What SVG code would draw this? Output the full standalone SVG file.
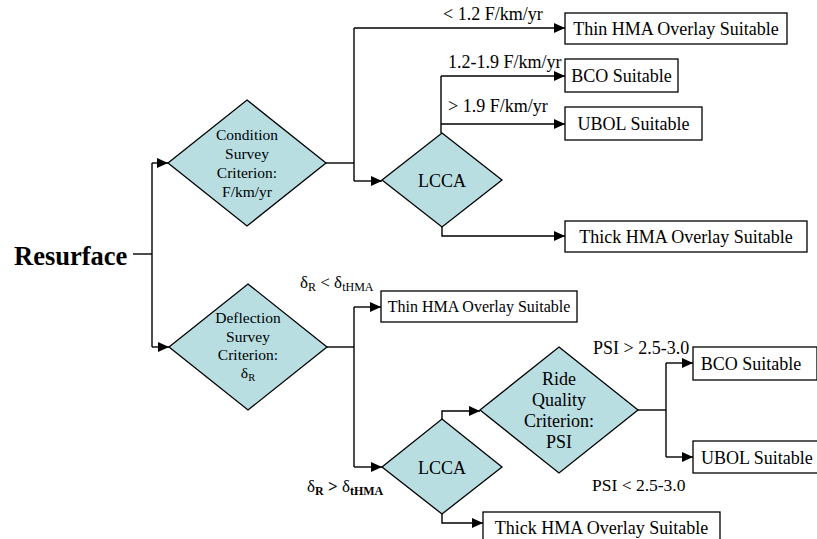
<svg xmlns="http://www.w3.org/2000/svg" width="817" height="539" viewBox="0 0 817 539" font-family="'Liberation Serif', 'Times New Roman', serif">
<style>
  .d { fill: #b8dee2; stroke: #000; stroke-width: 1.3; }
  .b { fill: #fff; stroke: #000; stroke-width: 1.3; }
  .c { fill: none; stroke: #000; stroke-width: 1.4; }
  text { font-family: "Liberation Serif", "Times New Roman", serif; fill: #000; }
  .t18 { font-size: 18px; }
  .t15 { font-size: 15.5px; }
  .sub { font-size: 12px; }
</style>
<defs>
  <marker id="ah" markerUnits="userSpaceOnUse" markerWidth="11" markerHeight="10" refX="11" refY="5" orient="auto">
    <path d="M0,0 L11,5 L0,10 z" fill="#000"/>
  </marker>
</defs>
<rect width="817" height="539" fill="#fff"/>

<g id="connectors">
  <path class="c" d="M133,254 H152"/>
  <path class="c" d="M152,163 V347"/>
  <path class="c" d="M152,163 H168" marker-end="url(#ah)"/>
  <path class="c" d="M152,347 H169" marker-end="url(#ah)"/>
  <path class="c" d="M326,163 H354"/>
  <path class="c" d="M354,28 V181"/>
  <path class="c" d="M354,28 H565" marker-end="url(#ah)"/>
  <path class="c" d="M354,181 H382" marker-end="url(#ah)"/>
  <path class="c" d="M441,133 V76"/>
  <path class="c" d="M441,76 H565" marker-end="url(#ah)"/>
  <path class="c" d="M441,124 H565" marker-end="url(#ah)"/>
  <path class="c" d="M442,227 V236 H565" marker-end="url(#ah)"/>
  <path class="c" d="M327,347 H354"/>
  <path class="c" d="M354,307 V467"/>
  <path class="c" d="M354,307 H381" marker-end="url(#ah)"/>
  <path class="c" d="M354,467 H382" marker-end="url(#ah)"/>
  <path class="c" d="M442,419 V411 H480" marker-end="url(#ah)"/>
  <path class="c" d="M442,514 V523 H483" marker-end="url(#ah)"/>
  <path class="c" d="M638,410 H666"/>
  <path class="c" d="M666,363 V457"/>
  <path class="c" d="M666,363 H693" marker-end="url(#ah)"/>
  <path class="c" d="M666,457 H693" marker-end="url(#ah)"/>
</g>

<g id="resurface">
  <text x="14" y="265" font-size="26.5" font-weight="bold">Resurface</text>
</g>

<g id="condition">
  <polygon class="d" points="247,100 326,163 247,226 168,163"/>
  <text class="t15" text-anchor="middle" x="247" y="140">Condition</text>
  <text class="t15" text-anchor="middle" x="247" y="159">Survey</text>
  <text class="t15" text-anchor="middle" x="247" y="178">Criterion:</text>
  <text class="t15" text-anchor="middle" x="247" y="197">F/km/yr</text>
</g>

<g id="deflection">
  <polygon class="d" points="248,284 327,347 248,410 169,347"/>
  <text class="t15" text-anchor="middle" x="248" y="323">Deflection</text>
  <text class="t15" text-anchor="middle" x="248" y="341.5">Survey</text>
  <text class="t15" text-anchor="middle" x="248" y="360">Criterion:</text>
  <text class="t15" text-anchor="middle" x="248" y="378">δ<tspan font-size="10.5" dy="3">R</tspan></text>
</g>

<g id="lcca1">
  <polygon class="d" points="442,133 502,180 442,227 382,180"/>
  <text class="t18" text-anchor="middle" x="442" y="187">LCCA</text>
</g>

<g id="lcca2">
  <polygon class="d" points="442,419 502,467 442,514 382,467"/>
  <text class="t18" text-anchor="middle" x="442" y="474">LCCA</text>
</g>

<g id="ride">
  <polygon class="d" points="559,347 638,410 559,473 480,410"/>
  <text class="t18" text-anchor="middle" x="559" y="385">Ride</text>
  <text class="t18" text-anchor="middle" x="559" y="406">Quality</text>
  <text class="t18" text-anchor="middle" x="559" y="427">Criterion:</text>
  <text class="t18" text-anchor="middle" x="559" y="448">PSI</text>
</g>

<g id="thin1">
  <rect class="b" x="565" y="13" width="222" height="31"/>
  <text class="t18" text-anchor="middle" x="676" y="35">Thin HMA Overlay Suitable</text>
</g>
<g id="bco1">
  <rect class="b" x="565" y="59" width="113" height="33"/>
  <text class="t18" text-anchor="middle" x="621.5" y="82">BCO Suitable</text>
</g>
<g id="ubol1">
  <rect class="b" x="565" y="107" width="137" height="33"/>
  <text class="t18" text-anchor="middle" x="633.5" y="130">UBOL Suitable</text>
</g>
<g id="thick1">
  <rect class="b" x="565" y="221" width="242" height="31"/>
  <text class="t18" text-anchor="middle" x="686" y="243">Thick HMA Overlay Suitable</text>
</g>
<g id="thin2">
  <rect class="b" x="381" y="291" width="196" height="31"/>
  <text text-anchor="middle" x="479" y="312" font-size="16">Thin HMA Overlay Suitable</text>
</g>
<g id="bco2">
  <rect class="b" x="693" y="347" width="124" height="33"/>
  <text class="t18" text-anchor="middle" x="751" y="370">BCO Suitable</text>
</g>
<g id="ubol2">
  <rect class="b" x="693" y="441" width="130" height="32"/>
  <text class="t18" x="701" y="464">UBOL Suitable</text>
</g>
<g id="thick2">
  <rect class="b" x="483" y="512" width="237" height="32"/>
  <text class="t18" text-anchor="middle" x="601.5" y="534">Thick HMA Overlay Suitable</text>
</g>

<g id="labels">
  <text class="t18" x="443" y="20">&lt; 1.2 F/km/yr</text>
  <text class="t18" x="448" y="68">1.2-1.9 F/km/yr</text>
  <text class="t18" x="448" y="112">&gt; 1.9 F/km/yr</text>
  <text class="t18" x="593" y="354">PSI &gt; 2.5-3.0</text>
  <text x="592" y="491" font-size="17.5">PSI &lt; 2.5-3.0</text>
  <text x="300" y="288" font-size="17">δ<tspan class="sub" dy="3">R</tspan><tspan dy="-3"> &lt; δ</tspan><tspan class="sub" dy="3">tHMA</tspan></text>
  <text x="307" y="492" font-size="17">δ<tspan class="sub" dy="3" font-weight="bold">R</tspan><tspan dy="-3" font-weight="bold"> &gt; </tspan>δ<tspan class="sub" dy="3" font-weight="bold">tHMA</tspan></text>
</g>
</svg>
